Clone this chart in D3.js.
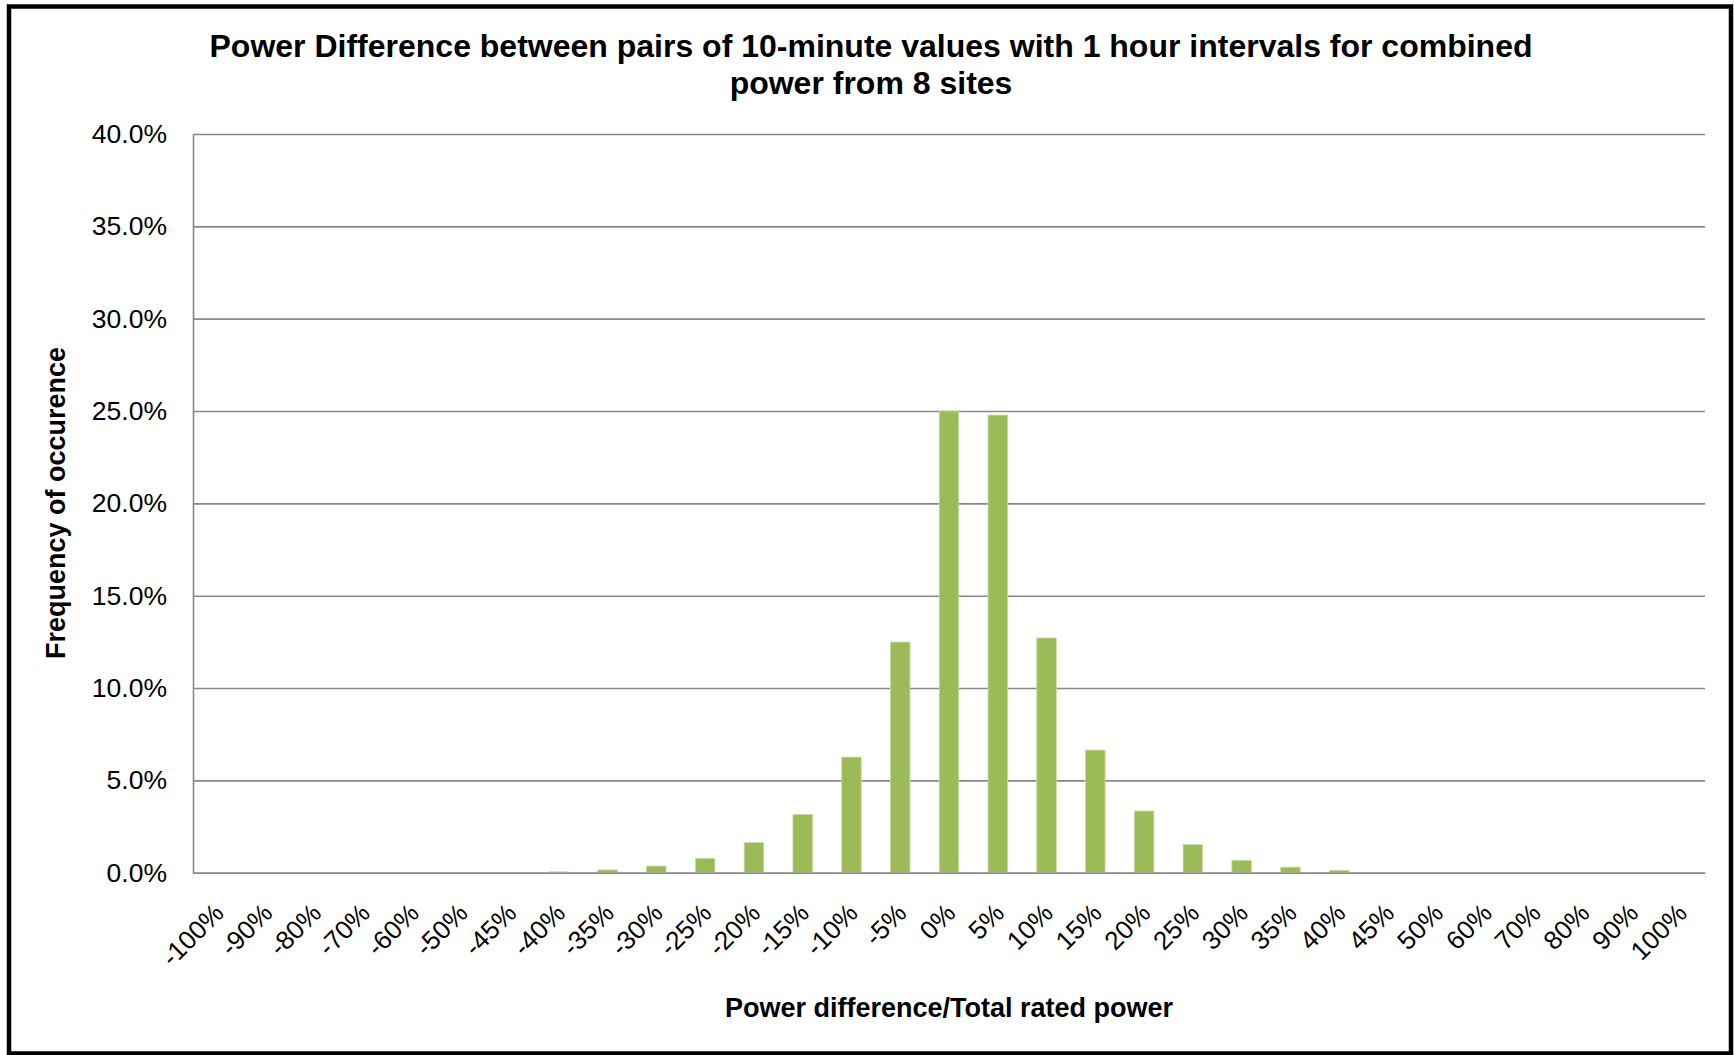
<!DOCTYPE html>
<html>
<head>
<meta charset="utf-8">
<script src="https://cdn.jsdelivr.net/npm/d3@7"></script>
<style>
	body { margin: 0; background: #fff; }
	text { font-family: "Liberation Sans", Arial, sans-serif; fill: #000; }
</style>
</head>
<body>
<div id="chart"></div>
<script>

// bins of power difference / total rated power
let categories = ['-100%','-90%','-80%','-70%','-60%','-50%','-45%','-40%','-35%','-30%','-25%','-20%','-15%','-10%','-5%',
	'0%','5%','10%','15%','20%','25%','30%','35%','40%','45%','50%','60%','70%','80%','90%','100%']

// frequency of occurence, in percent
let frequency = [0, 0, 0, 0, 0, 0, 0, 0.05, 0.15, 0.36, 0.78, 1.64, 3.16, 6.26, 12.49,
	25.0, 24.78, 12.71, 6.64, 3.34, 1.52, 0.67, 0.30, 0.13, 0, 0, 0, 0, 0, 0, 0]

let yTicks = [0, 0.05, 0.10, 0.15, 0.20, 0.25, 0.30, 0.35, 0.40]

let titleLines = ['Power Difference between pairs of 10-minute values with 1 hour intervals for combined', 'power from 8 sites']
let xTitle = 'Power difference/Total rated power'
let yTitle = 'Frequency of occurence'

let width = 1734
let height = 1055

let plotLeft = 193
let plotRight = 1705
let plotTop = 134
let plotBottom = 872.7

let data = categories.map((c, i) => ({cat: c, value: frequency[i] / 100}))

const svg = d3.select('#chart')
	.append('svg')
	.attr('width', width)
	.attr('height', height)

// outer frame
svg.append('rect')
	.attr('x', 9)
	.attr('y', 6.5)
	.attr('width', 1722)
	.attr('height', 1047)
	.attr('fill', '#fff')
	.attr('stroke', '#000')
	.attr('stroke-width', 4.5)

let xScale = d3.scaleBand()
	.domain(categories)
	.range([plotLeft, plotRight])
	.paddingInner(0.6)
	.paddingOuter(0.3)

let yScale = d3.scaleLinear()
	.domain([0, 0.4])
	.range([plotBottom, plotTop])

// gridlines
svg.append('g')
	.attr('transform', `translate(${plotLeft},0)`)
	.call(d3.axisLeft(yScale).tickValues(yTicks).tickSize(-(plotRight - plotLeft)).tickFormat(''))
	.call(g => g.select('.domain').remove())
	.call(g => g.selectAll('line').attr('stroke', '#888').attr('stroke-width', 1.6))

// y labels
svg.append('g')
	.attr('transform', `translate(${plotLeft},0)`)
	.call(d3.axisLeft(yScale).tickValues(yTicks).tickSize(0).tickPadding(26).tickFormat(d3.format('.1%')))
	.call(g => g.select('.domain').attr('stroke', '#888').attr('stroke-width', 1.6))
	.call(g => g.selectAll('text').attr('font-size', 26.5).attr('font-family', '"Liberation Sans", Arial, sans-serif'))

// bars
svg.append('g')
	.selectAll('rect')
	.data(data)
	.join('rect')
	.attr('x', d => xScale(d.cat))
	.attr('y', d => yScale(d.value))
	.attr('width', xScale.bandwidth())
	.attr('height', d => plotBottom - yScale(d.value))
	.attr('fill', '#9bbb59')
	.attr('stroke', '#c9dba6')
	.attr('stroke-width', 0.8)

// x axis
svg.append('g')
	.attr('transform', `translate(0,${plotBottom})`)
	.call(d3.axisBottom(xScale).tickSize(0).tickSizeOuter(0))
	.call(g => g.select('.domain').attr('stroke', '#888').attr('stroke-width', 1.6))
	.call(g => g.selectAll('text')
		.attr('font-size', 26)
		.attr('font-family', '"Liberation Sans", Arial, sans-serif')
		.attr('text-anchor', 'end')
		.attr('x', 0)
		.attr('y', 0)
		.attr('dy', 0)
		.attr('transform', 'translate(8,42) rotate(-45)'))

// title
svg.append('g')
	.selectAll('text')
	.data(titleLines)
	.join('text')
	.attr('x', 871)
	.attr('y', (d, i) => 57 + i * 37)
	.attr('text-anchor', 'middle')
	.attr('font-size', 32)
	.attr('font-weight', 'bold')
	.text(d => d)

svg.append('text')
	.attr('x', (plotLeft + plotRight) / 2)
	.attr('y', 1017)
	.attr('text-anchor', 'middle')
	.attr('font-size', 27)
	.attr('font-weight', 'bold')
	.text(xTitle)

svg.append('text')
	.attr('transform', 'translate(65,503) rotate(-90)')
	.attr('text-anchor', 'middle')
	.attr('font-size', 27)
	.attr('font-weight', 'bold')
	.text(yTitle)

</script>
</body>
</html>
